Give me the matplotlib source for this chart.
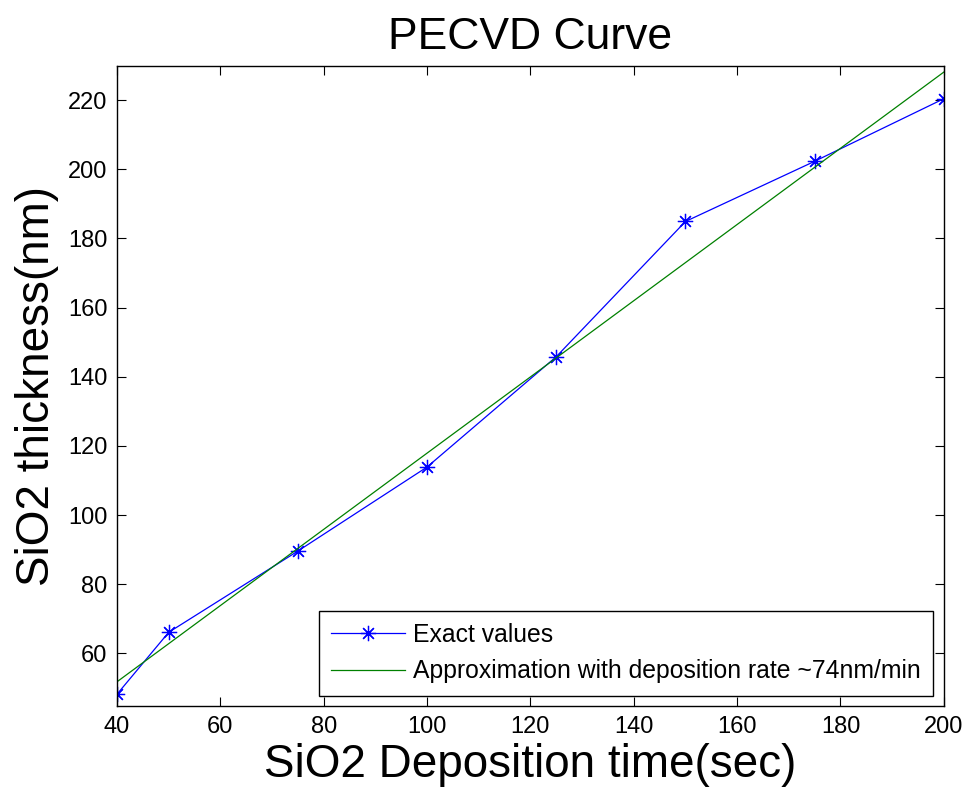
import matplotlib
matplotlib.use("Agg")
import matplotlib.pyplot as plt

plt.rcParams['font.family'] = ['Liberation Sans', 'DejaVu Sans']

time_sec = [40, 50, 75, 100, 125, 150, 175, 200]
thickness_nm = [48.2, 66.1, 89.6, 113.9, 145.8, 184.9, 202.3, 220.4]
approx_x = [40, 200]
approx_y = [51.8, 228.1]
xticks = [40, 60, 80, 100, 120, 140, 160, 180, 200]
yticks = [60, 80, 100, 120, 140, 160, 180, 200, 220]

fig = plt.figure(figsize=(9.71, 7.99), dpi=100)
ax = fig.add_axes([0.1205, 0.1164, 0.972 - 0.1205, 0.918 - 0.1164])

ax.plot(time_sec, thickness_nm, color='#0000ff', lw=0.9, marker=(8, 2, 0),
        markersize=11, markeredgewidth=0.9, label='Exact values')
ax.plot(approx_x, approx_y, color='#008000', lw=0.9,
        label='Approximation with deposition rate ~74nm/min')

ax.set_xlim(40, 200)
ax.set_ylim(44.8, 230)
ax.set_xticks(xticks)
ax.set_yticks(yticks)
ax.tick_params(direction='in', top=True, right=True, length=6.5, width=0.8,
               labelsize=17, pad=7, colors='black')
for s in ax.spines.values():
    s.set_linewidth(1.0)

ax.set_title('PECVD Curve', fontsize=32, pad=12)
ax.set_xlabel('SiO2 Deposition time(sec)', fontsize=33, labelpad=4)
ax.set_ylabel('SiO2 thickness(nm)', fontsize=33, labelpad=6)

leg = ax.legend(loc='lower right', bbox_to_anchor=(0.9867, 0.016), fontsize=17.8,
                fancybox=False, edgecolor='black', framealpha=1,
                handlelength=3.0, borderpad=0.5, labelspacing=0.5,
                handletextpad=0.3, borderaxespad=0)
leg.get_frame().set_linewidth(1.0)

fig.savefig('out.png', dpi=100)
